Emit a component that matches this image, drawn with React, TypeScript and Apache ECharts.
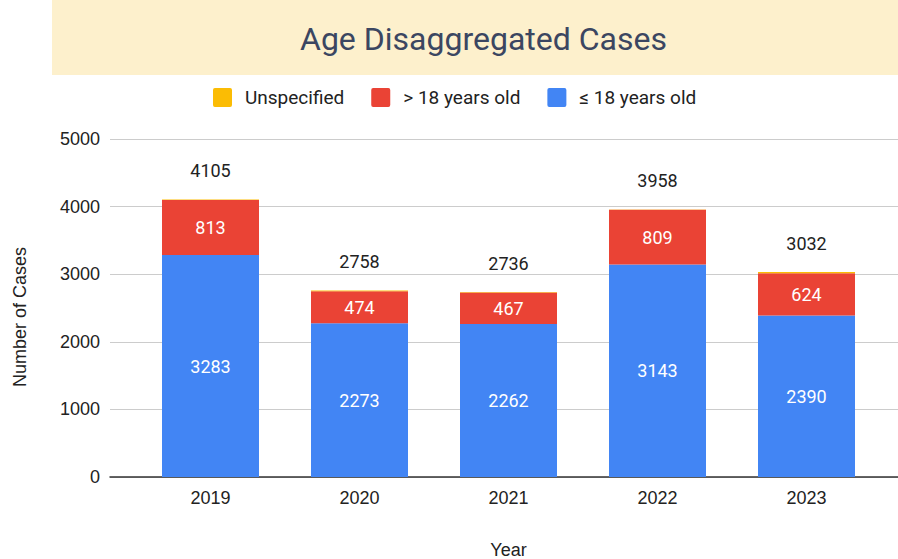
import React, { useEffect, useRef } from "react";
import * as echarts from "echarts";

const years = ["2019", "2020", "2021", "2022", "2023"];
const under18 = [3283, 2273, 2262, 3143, 2390];
const over18 = [813, 474, 467, 809, 624];
const unspecified = [9, 11, 7, 6, 18];
const yTicks = { min: 0, max: 5000, interval: 1000 };

const AXIS_FONT = "Arial, 'Liberation Sans', sans-serif";
const LABEL_FONT = "Roboto, Arial, sans-serif";
const SQUARE = "path://M1,0H9A1,1 0 0 1 10,1V9A1,1 0 0 1 9,10H1A1,1 0 0 1 0,9V1A1,1 0 0 1 1,0Z";

export default function App() {
  const ref = useRef<HTMLDivElement>(null);
  useEffect(() => {
    if (!ref.current) return;
    const chart = echarts.init(ref.current, undefined, { renderer: "svg" });
    const option: any = {
      animation: false,
      backgroundColor: "#ffffff",
      graphic: [
        {
          type: "rect",
          z: -10,
          shape: { x: 52, y: 0, width: 846, height: 75 },
          style: { fill: "#FDF0CC" },
          silent: true,
        },
      ],
      title: {
        text: "Age Disaggregated Cases",
        left: 300,
        top: 23,
        padding: 0,
        textStyle: {
          fontFamily: LABEL_FONT,
          fontSize: 32,
          fontWeight: "normal",
          color: "#3B4661",
        },
      },
      legend: {
        data: ["Unspecified", "> 18 years old", "≤ 18 years old"],
        left: 213,
        top: 88,
        padding: 0,
        itemWidth: 19,
        itemHeight: 19,
        itemGap: 27,
        icon: SQUARE,
        textStyle: {
          fontFamily: LABEL_FONT,
          fontSize: 19,
          color: "#222222",
          padding: [0, 0, 0, 8],
        },
      },
      grid: [
        { left: 110, right: 0, top: 139, bottom: 82, outerBoundsMode: "none", containLabel: false },
        { left: 136, right: 17, top: 139, bottom: 82, outerBoundsMode: "none", containLabel: false },
      ],
      xAxis: [
        {
          gridIndex: 0,
          type: "value",
          min: 0,
          max: 1,
          axisLine: { show: true, onZero: false, lineStyle: { color: "#333333", width: 1.5 } },
          axisTick: { show: false },
          axisLabel: { show: false },
          splitLine: { show: false },
        },
        {
          gridIndex: 1,
          type: "category",
          data: years,
          axisLine: { show: false },
          axisTick: { show: false },
          axisLabel: {
            margin: 12,
            fontFamily: AXIS_FONT,
            fontSize: 18,
            color: "#222222",
          },
          name: "Year",
          nameLocation: "middle",
          nameGap: 64,
          nameTextStyle: { fontFamily: AXIS_FONT, fontSize: 18, color: "#222222" },
        },
      ],
      yAxis: [
        {
          gridIndex: 0,
          type: "value",
          min: yTicks.min,
          max: yTicks.max,
          interval: yTicks.interval,
          axisLine: { show: false },
          axisTick: { show: false },
          axisLabel: {
            margin: 10,
            fontFamily: AXIS_FONT,
            fontSize: 18,
            color: "#222222",
            formatter: (v: number) => String(v),
          },
          splitLine: { lineStyle: { color: "#CCCCCC", width: 1 } },
          name: "Number of Cases",
          nameLocation: "middle",
          nameGap: 81,
          nameTextStyle: {
            fontFamily: AXIS_FONT,
            fontSize: 18,
            color: "#222222",
            padding: [0, 18, 0, 0],
          },
        },
        {
          gridIndex: 1,
          type: "value",
          min: yTicks.min,
          max: yTicks.max,
          interval: yTicks.interval,
          show: false,
          splitLine: { show: false },
        },
      ],
      series: [
        {
          name: "≤ 18 years old",
          type: "bar",
          stack: "total",
          xAxisIndex: 1,
          yAxisIndex: 1,
          barWidth: 97,
          data: under18,
          itemStyle: { color: "#4285F4" },
          label: {
            show: true,
            position: "inside",
            color: "#ffffff",
            fontFamily: LABEL_FONT,
            fontSize: 18,
          },
        },
        {
          name: "> 18 years old",
          type: "bar",
          stack: "total",
          xAxisIndex: 1,
          yAxisIndex: 1,
          barWidth: 97,
          data: over18,
          itemStyle: { color: "#EA4335" },
          label: {
            show: true,
            position: "inside",
            color: "#ffffff",
            fontFamily: LABEL_FONT,
            fontSize: 18,
          },
        },
        {
          name: "Unspecified",
          type: "bar",
          stack: "total",
          xAxisIndex: 1,
          yAxisIndex: 1,
          barWidth: 97,
          data: unspecified,
          itemStyle: { color: "#FBBC04" },
          label: {
            show: true,
            position: "top",
            distance: 20,
            color: "#222222",
            fontFamily: LABEL_FONT,
            fontSize: 18,
            formatter: (p: any) =>
              String(under18[p.dataIndex] + over18[p.dataIndex] + unspecified[p.dataIndex]),
          },
        },
      ],
    };
    chart.setOption(option);
    return () => chart.dispose();
  }, []);
  return <div ref={ref} style={{ width: 898, height: 559, position: "absolute", left: 0, top: 0 }} />;
}
